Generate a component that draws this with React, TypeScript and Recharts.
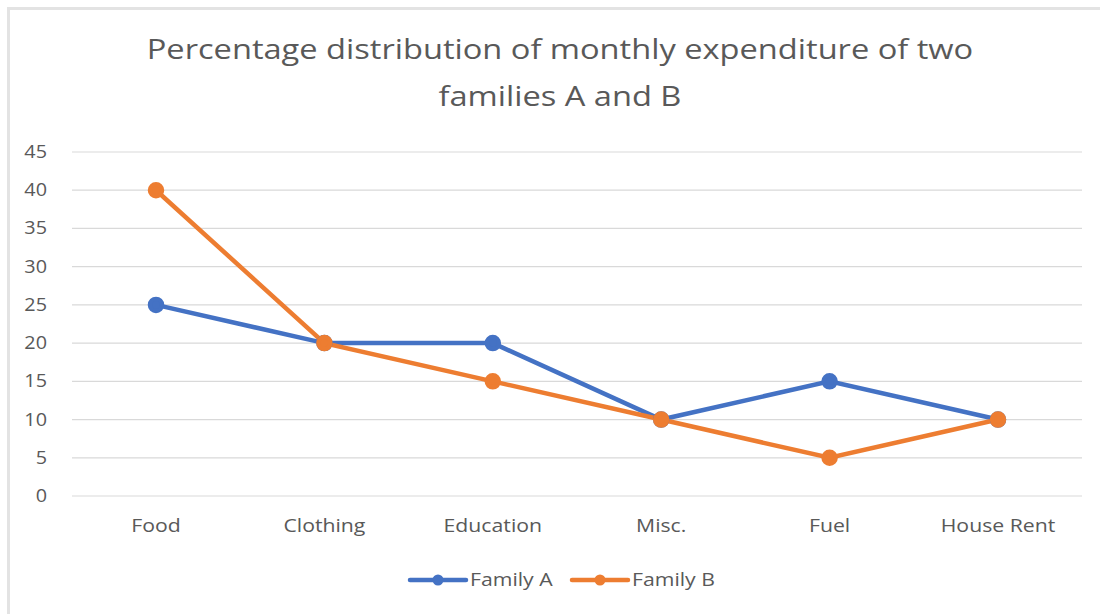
import React from "react";
import { LineChart, Line, XAxis, YAxis, CartesianGrid } from "recharts";

const categories = ["Food", "Clothing", "Education", "Misc.", "Fuel", "House Rent"];
const familyA = [25, 20, 20, 10, 15, 10];
const familyB = [40, 20, 15, 10, 5, 10];
const yTicks = [0, 5, 10, 15, 20, 25, 30, 35, 40, 45];
const seriesNames = ["Family A", "Family B"];
const seriesColors = ["#4472C4", "#ED7D31"];

const data = categories.map((c, i) => ({ name: c, a: familyA[i], b: familyB[i] }));

const FONT = "'Open Sans', sans-serif";
const GRAY = "#595959";
const SX = 1.18;

const XTick = (props: any) => {
  const { x, y, payload } = props;
  return (
    <g transform={`translate(${x},${y}) scale(${SX},1)`}>
      <text x={0} y={0} dy={14} textAnchor="middle" fill={GRAY} fontSize={18} fontFamily={FONT}>
        {payload.value}
      </text>
    </g>
  );
};

const YTick = (props: any) => {
  const { x, y, payload } = props;
  return (
    <g transform={`translate(${x},${y}) scale(1.1,1)`}>
      <text x={0} y={0} dy={6} textAnchor="end" fill={GRAY} fontSize={18} fontFamily={FONT}>
        {payload.value}
      </text>
    </g>
  );
};

export default function App() {
  return (
    <div style={{ position: "fixed", left: 0, top: 0, width: 1100, height: 614, background: "#fff", fontFamily: FONT, overflow: "hidden" }}>
      <div style={{ position: "absolute", left: 7, top: 7, width: 1100, height: 620, border: "3px solid #e3e3e3", boxSizing: "border-box" }} />
      <div
        style={{
          position: "absolute",
          left: 0,
          top: 26,
          width: 1120,
          textAlign: "center",
          color: GRAY,
          fontSize: 26.5,
          lineHeight: "47px",
          transform: "scaleX(1.23)",
          transformOrigin: "560px 0",
        }}
      >
        Percentage distribution of monthly expenditure of two
        <br />
        families A and B
      </div>
      <div style={{ position: "absolute", left: 0, top: 0 }}>
        <LineChart width={1100} height={614} data={data} margin={{ top: 152, right: 18, bottom: 0, left: 0 }}>
          <CartesianGrid vertical={false} stroke="#d9d9d9" strokeWidth={1.2} />
          <XAxis
            dataKey="name"
            axisLine={false}
            tickLine={false}
            padding={{ left: 84, right: 84 }}
            height={118}
            tickMargin={16}
            tick={<XTick />}
          />
          <YAxis
            domain={[0, 45]}
            ticks={yTicks}
            interval={0}
            axisLine={false}
            tickLine={false}
            width={72}
            tickMargin={19}
            tick={<YTick />}
          />
          <Line name={seriesNames[0]} dataKey="a" stroke={seriesColors[0]} strokeWidth={4.5} dot={{ r: 6, fill: seriesColors[0], stroke: seriesColors[0] }} isAnimationActive={false} />
          <Line name={seriesNames[1]} dataKey="b" stroke={seriesColors[1]} strokeWidth={4.5} dot={{ r: 6, fill: seriesColors[1], stroke: seriesColors[1] }} isAnimationActive={false} />
        </LineChart>
      </div>
      <svg style={{ position: "absolute", left: 0, top: 0 }} width={1100} height={614}>
        {seriesNames.map((n, i) => {
          const x0 = 410 + i * 162;
          return (
            <g key={n}>
              <line x1={x0} x2={x0 + 56} y1={580} y2={580} stroke={seriesColors[i]} strokeWidth={4.5} strokeLinecap="round" />
              <circle cx={x0 + 28} cy={580} r={5.5} fill={seriesColors[i]} />
              <g transform={`translate(${x0 + 60},586) scale(${SX},1)`}>
                <text x={0} y={0} fill={GRAY} fontSize={18} fontFamily={FONT}>{n}</text>
              </g>
            </g>
          );
        })}
      </svg>
    </div>
  );
}
